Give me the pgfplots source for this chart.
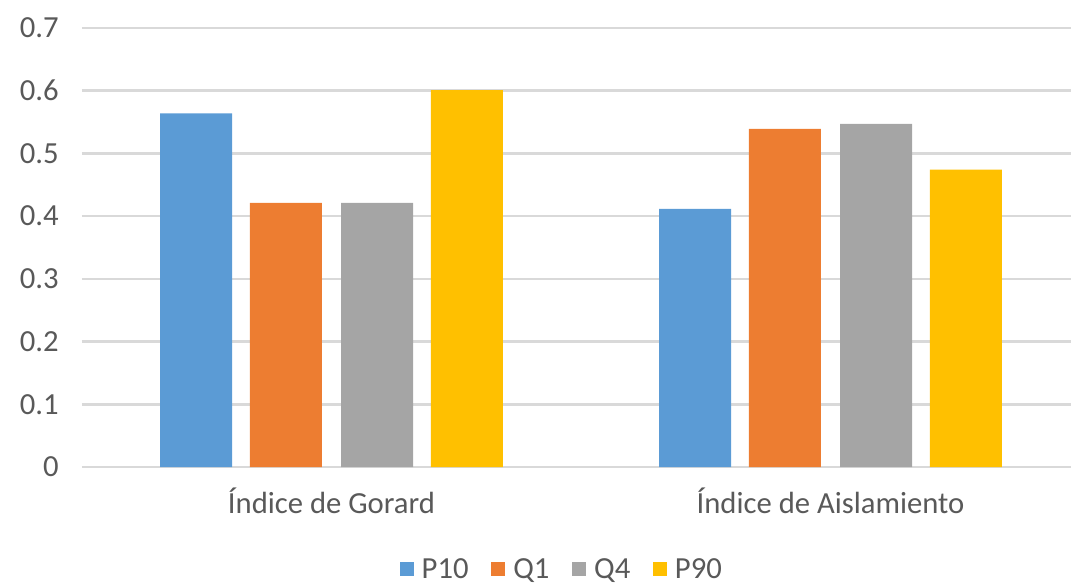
\documentclass[border=0pt]{standalone}
\usepackage{pgfplots}
\pgfplotsset{compat=1.18}
\usepackage{fontspec}
\setmainfont{Carlito}
\definecolor{cA}{HTML}{5B9BD5}
\definecolor{cB}{HTML}{ED7D31}
\definecolor{cC}{HTML}{A5A5A5}
\definecolor{cD}{HTML}{FFC000}
\definecolor{gridc}{HTML}{D9D9D9}
\definecolor{txt}{HTML}{595959}
\begin{document}
\begin{tikzpicture}
\begin{axis}[
  at={(0,0)}, anchor=south west,
  scale only axis, width=741.75pt, height=329.25pt,
  xmin=-0.5, xmax=1.482, ymin=0, ymax=0.7,
  xtick={0,1}, xticklabels={Índice de Gorard, Índice de Aislamiento},
  ytick={0,0.1,0.2,0.3,0.4,0.5,0.6,0.7},
  yticklabels={0,0.1,0.2,0.3,0.4,0.5,0.6,0.7},
  ymajorgrids, grid style={draw=gridc, line width=2pt},
  axis line style={draw=none},
  major tick length=0pt,
  tick label style={font=\fontsize{23}{27}\selectfont, text=txt},
  yticklabel style={xshift=-14pt},
  xticklabel style={yshift=-12pt},
  legend style={draw=none, fill=none,
    nodes={font=\fontsize{23}{27}\selectfont, text=txt, inner sep=1pt},
    at={(0.4848,-0.234)}, anchor=center, legend columns=-1,
    /tikz/every odd column/.append style={column sep=5pt},
    /tikz/every even column/.append style={column sep=16pt}},
  legend image code/.code={\fill[#1] (0pt,-5pt) rectangle (10.5pt,5.5pt);},
  clip=false,
]
\addplot[ybar, fill=cA, draw=none, bar width=0.1443, bar shift=-0.2715] coordinates {(0,0.564) (1,0.4115)};
\addplot[ybar, fill=cB, draw=none, bar width=0.1443, bar shift=-0.0912] coordinates {(0,0.421) (1,0.539)};
\addplot[ybar, fill=cC, draw=none, bar width=0.1443, bar shift=0.0912] coordinates {(0,0.421) (1,0.547)};
\addplot[ybar, fill=cD, draw=none, bar width=0.1443, bar shift=0.2715] coordinates {(0,0.601) (1,0.474)};
\legend{P10,Q1,Q4,P90}
\end{axis}
\pgfresetboundingbox
\path[use as bounding box] (-61.5pt,-88.5pt) rectangle (741.75pt,350.25pt);
\end{tikzpicture}
\end{document}
